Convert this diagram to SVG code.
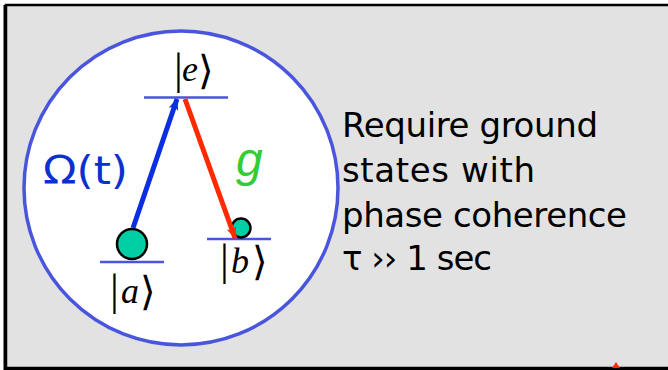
<svg xmlns="http://www.w3.org/2000/svg" width="668" height="370" viewBox="0 0 668 370">
<style>
.lvl{stroke:#4a55dd;stroke-width:2.5}
.ket{font-family:"Liberation Serif",serif;font-size:44px;fill:#000}
.ang{font-family:"DejaVu Sans",sans-serif;font-size:40px;font-weight:200}
.ketl{font-size:36px;font-style:italic}
.pop{fill:#00cfa6;stroke:#000;stroke-width:2.5}
.body{font-family:"DejaVu Sans","Liberation Sans",sans-serif;font-size:34px;fill:#000}
</style>
<defs>
<marker id="ab" viewBox="0 0 12 10" refX="11" refY="5" markerWidth="12" markerHeight="10" markerUnits="userSpaceOnUse" orient="auto">
<path d="M0,0 L12,5 L0,10 L3,5 Z" fill="#0a2ee0"/>
</marker>
<marker id="ar" viewBox="0 0 12 10" refX="11" refY="5" markerWidth="12" markerHeight="10" markerUnits="userSpaceOnUse" orient="auto">
<path d="M0,0 L12,5 L0,10 L3,5 Z" fill="#ff2a00"/>
</marker>
</defs>
<rect x="0" y="0" width="668" height="370" fill="#fff"/>
<rect x="6" y="5" width="666" height="363" fill="#e2e2e2" stroke="#000" stroke-width="2.5"/>
<line x1="5" y1="5" x2="5" y2="370" stroke="#000" stroke-width="3"/>
<line x1="5" y1="368.5" x2="668" y2="368.5" stroke="#000" stroke-width="3"/>
<path d="M612,368 L616,362 L620,368 Z" fill="#ff2a00"/>
<g id="atom">
<circle cx="181" cy="188" r="157" fill="#fff" stroke="#4a55dd" stroke-width="3.5"/>
</g>
<g id="level-e">
<line class="lvl" x1="144" y1="97.5" x2="228" y2="97.5"/>
<text class="ket" x="174" y="84">|<tspan class="ketl" x="182" y="81">e</tspan><tspan class="ang" x="198" y="84">⟩</tspan></text>
</g>
<g id="level-a">
<line class="lvl" x1="100" y1="262" x2="164" y2="262"/>
<circle class="pop" cx="132" cy="244" r="15"/>
<text class="ket" x="110" y="305">|<tspan class="ketl" x="121" y="303">a</tspan><tspan class="ang" x="140" y="305">⟩</tspan></text>
</g>
<g id="level-b">
<line class="lvl" x1="207" y1="239" x2="271" y2="239"/>
<circle class="pop" cx="241" cy="228" r="9.5"/>
<text class="ket" x="220" y="275">|<tspan class="ketl" x="231" y="273">b</tspan><tspan class="ang" x="252" y="275">⟩</tspan></text>
</g>
<g id="connectors">
<line x1="133" y1="228" x2="177" y2="99" stroke="#0a2ee0" stroke-width="5" marker-end="url(#ab)"/>
<line x1="185" y1="99" x2="235" y2="238" stroke="#ff2a00" stroke-width="5" marker-end="url(#ar)"/>
</g>
<text x="43" y="184" font-family="DejaVu Sans,sans-serif" font-size="39" fill="#0a30d0" textLength="85" lengthAdjust="spacingAndGlyphs">Ω(t)</text>
<text x="236" y="176" font-family="Liberation Sans,sans-serif" font-size="48" font-style="italic" fill="#33cc33">g</text>
<g id="note">
<text class="body" x="342" y="137" textLength="256">Require ground</text>
<text class="body" x="342" y="182" textLength="193">states with</text>
<text class="body" x="342" y="227" textLength="285">phase coherence</text>
<text class="body" x="342" y="270" textLength="150">τ ›› 1 sec</text>
</g>
</svg>
